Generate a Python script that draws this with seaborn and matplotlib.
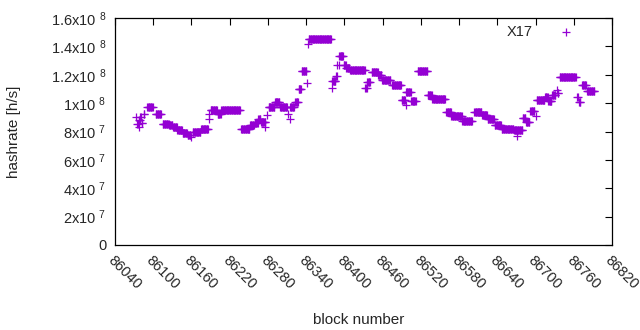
import numpy as np
import pandas as pd
import matplotlib
matplotlib.use("Agg")
import matplotlib.pyplot as plt
import seaborn as sns

run_start = [86073, 86075, 86077, 86078, 86080, 86082, 86085, 86091, 86104, 86115,
             86125, 86131, 86138, 86146, 86154, 86160, 86162, 86175, 86187, 86188,
             86190, 86201, 86207, 86238, 86252, 86259, 86265, 86269, 86275, 86279,
             86281, 86291, 86299, 86312, 86314, 86315, 86323, 86328, 86333, 86342,
             86343, 86344, 86380, 86381, 86387, 86389, 86391, 86392, 86399, 86403,
             86409, 86433, 86436, 86443, 86453, 86459, 86475, 86490, 86496, 86497,
             86505, 86515, 86531, 86538, 86560, 86568, 86585, 86604, 86616, 86625,
             86636, 86647, 86666, 86671, 86680, 86685, 86692, 86700, 86702, 86715,
             86720, 86726, 86733, 86735, 86738, 86765, 86768, 86773, 86781]
run_end = [86073, 86076, 86077, 86079, 86081, 86083, 86086, 86099, 86112, 86124,
           86130, 86137, 86145, 86153, 86158, 86160, 86174, 86186, 86187, 86188,
           86200, 86206, 86236, 86251, 86258, 86264, 86268, 86276, 86275, 86279,
           86290, 86298, 86310, 86312, 86314, 86321, 86327, 86332, 86340, 86342,
           86343, 86379, 86380, 86386, 86388, 86389, 86391, 86398, 86402, 86408,
           86432, 86435, 86440, 86452, 86458, 86472, 86489, 86495, 86496, 86504,
           86512, 86530, 86537, 86558, 86567, 86584, 86600, 86615, 86624, 86635,
           86646, 86665, 86679, 86671, 86684, 86690, 86698, 86700, 86714, 86719,
           86725, 86731, 86733, 86736, 86763, 86766, 86770, 86779, 86792]
run_rate = [90, 85, 83, 88, 90, 86, 92, 97, 92, 85.5,
            84.5, 83.5, 81, 79, 77.5, 76, 80, 82, 89, 92,
            95, 92.5, 95.5, 81.5, 84.5, 86, 89, 86.5, 83, 91.5,
            97.5, 100.5, 97, 92, 89, 97.5, 100.5, 110, 122.5, 114,
            142, 145.5, 111, 115.5, 119, 127, 127, 133, 127, 124.5,
            123, 111, 115, 122, 119.5, 116.5, 113, 102.5, 99, 107.5,
            101.5, 122.5, 105.5, 103, 93.5, 91, 87.5, 94, 91.5, 88.5,
            84.5, 82, 81, 77, 89.5, 87, 94.5, 91, 102.5, 104.5,
            101.5, 105.5, 109.5, 107, 118.5, 104, 101, 113, 108.5]

y_ticks = [0, 2e7, 4e7, 6e7, 8e7, 1e8, 1.2e8, 1.4e8, 1.6e8]
y_tick_labels = ['0', '2x10 $^{7}$', '4x10 $^{7}$', '6x10 $^{7}$', '8x10 $^{7}$',
                 '1x10 $^{8}$', '1.2x10 $^{8}$', '1.4x10 $^{8}$', '1.6x10 $^{8}$']
x_ticks = list(range(86040, 86821, 60))

blocks, rates = [], []
for s, e, r in zip(run_start, run_end, run_rate):
    for b in range(s, e + 1):
        blocks.append(b)
        rates.append(r * 1e6)
df = pd.DataFrame({'block': blocks, 'hashrate': rates})

sns.set_style("white")
plt.rcParams['font.family'] = ['Liberation Sans', 'DejaVu Sans']
plt.rcParams['mathtext.fontset'] = 'custom'
plt.rcParams['mathtext.rm'] = 'Liberation Sans'
plt.rcParams['mathtext.it'] = 'Liberation Sans'

fig = plt.figure(figsize=(6.4, 3.3), dpi=100)
ax = fig.add_axes([115 / 640, 1 - 245 / 330, (612 - 115) / 640, (245 - 18) / 330])

sns.scatterplot(data=df, x='block', y='hashrate', marker='+', color='#9400d3',
                s=30, linewidth=0.9, label='X17', ax=ax)

ax.set_xlim(86040, 86820)
ax.set_ylim(0, 1.6e8)
ax.set_xticks(x_ticks)
ax.set_xticklabels([str(t) for t in x_ticks], rotation=-45, ha='left',
                   rotation_mode='anchor', fontsize=10.5)
ax.set_yticks(y_ticks)
ax.set_yticklabels(y_tick_labels, fontsize=10.5)
ax.tick_params(direction='in', top=True, right=True, length=5, width=0.8,
               color='black', pad=6)
ax.tick_params(axis='x', pad=6)
for sp in ax.spines.values():
    sp.set_color('black')
    sp.set_linewidth(0.9)

ax.set_xlabel('block number', fontsize=11)
ax.set_ylabel('hashrate [h/s]', fontsize=11)
ax.xaxis.set_label_coords(0.49, -0.3)
ax.yaxis.set_label_coords(-0.19, 0.5)

ax.legend(loc='upper right', frameon=False, markerfirst=False, fontsize=10.5,
          handletextpad=1.3, borderaxespad=0, borderpad=0,
          bbox_to_anchor=((581 - 115) / 497, 1 - 7 / 227))

fig.savefig('out.png', dpi=100)
